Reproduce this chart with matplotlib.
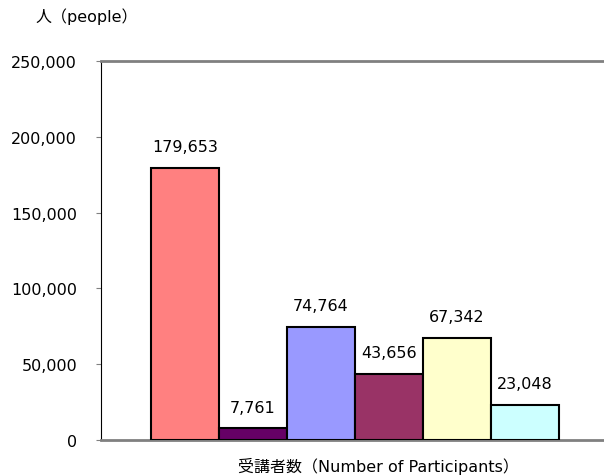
import matplotlib
matplotlib.use("Agg")
import matplotlib.pyplot as plt
from matplotlib.ticker import FuncFormatter

plt.rcParams["font.family"] = ["DejaVu Sans", "Noto Sans CJK JP"]

# data
categories = ["A", "B", "C", "D", "E", "F"]
values = [179653, 7761, 74764, 43656, 67342, 23048]
colors = ["#FF8080", "#660066", "#9999FF", "#993366", "#FFFFCC", "#CCFFFF"]

fig = plt.figure(figsize=(6.04, 4.77), dpi=100)
ax = fig.add_axes([101 / 604, 1 - 441 / 477, 510 / 604, 379 / 477])

bar_w = 68 / 510
start = (151 - 101) / 510
for i, (v, c) in enumerate(zip(values, colors)):
    x = start + bar_w * (i + 0.5)
    ax.bar(x, v, width=bar_w, color=c, edgecolor="black", linewidth=1.5, zorder=3)
    ax.text(x, v + 9000, f"{v:,}", ha="center", va="bottom", fontsize=11.5)

ax.set_xlim(0, 1)
ax.set_ylim(0, 250000)
ax.set_yticks(range(0, 250001, 50000))
ax.yaxis.set_major_formatter(FuncFormatter(lambda y, _: f"{int(y):,}"))
ax.tick_params(axis="y", labelsize=11.5, length=3.6, pad=13.5, color="#808080")
ax.set_xticks([])

for side in ("top", "bottom"):
    ax.spines[side].set_color("#808080")
    ax.spines[side].set_linewidth(2)
ax.spines["left"].set_color("black")
ax.spines["right"].set_visible(False)

fig.text(35 / 604, 1 - 17 / 477, "人（people）", fontsize=11.5, va="center", ha="left")
fig.text(378 / 604, 1 - 466 / 477, "受講者数（Number of Participants）", fontsize=11.5,
         va="center", ha="center")

fig.savefig("out.png", dpi=100)
